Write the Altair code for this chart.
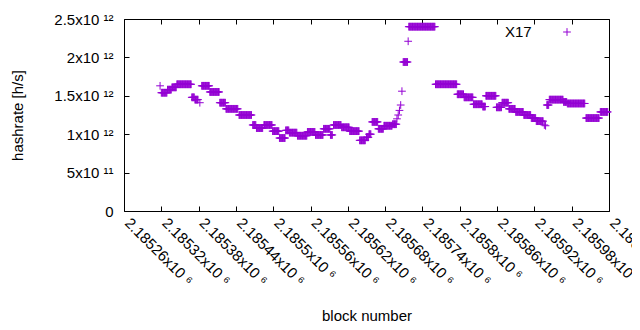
import altair as alt
import pandas as pd

# Plateaus of the per-block hashrate (first block, last block, hashrate in 10^12 h/s)
run_start = [2185318, 2185320, 2185330, 2185337, 2185345, 2185369, 2185374, 2185382,
             2185385, 2185398, 2185414, 2185424, 2185445, 2185467, 2185473, 2185485,
             2185499, 2185510, 2185520, 2185526, 2185539, 2185555, 2185568, 2185581,
             2185592, 2185597, 2185610, 2185623, 2185639, 2185650, 2185654, 2185659,
             2185669, 2185678, 2185692, 2185699, 2185701, 2185703, 2185705, 2185707,
             2185709, 2185717, 2185718, 2185761, 2185796, 2185807, 2185822, 2185837,
             2185842, 2185859, 2185868, 2185879, 2185890, 2185903, 2185915, 2185923,
             2185936, 2185938, 2185940, 2185944, 2185967, 2185973, 2186003, 2186026]
run_end = [2185318, 2185329, 2185336, 2185344, 2185368, 2185373, 2185379, 2185382,
           2185397, 2185413, 2185423, 2185443, 2185465, 2185472, 2185483, 2185498,
           2185509, 2185519, 2185525, 2185538, 2185554, 2185567, 2185580, 2185591,
           2185595, 2185609, 2185622, 2185638, 2185648, 2185653, 2185657, 2185668,
           2185677, 2185691, 2185698, 2185699, 2185701, 2185703, 2185705, 2185707,
           2185716, 2185717, 2185760, 2185795, 2185806, 2185821, 2185836, 2185841,
           2185858, 2185867, 2185878, 2185889, 2185902, 2185914, 2185922, 2185934,
           2185936, 2185938, 2185943, 2185966, 2185972, 2186001, 2186024, 2186038]
run_hashrate_e12 = [1.63, 1.54, 1.58, 1.61, 1.65, 1.48, 1.45, 1.41,
                    1.63, 1.55, 1.41, 1.33, 1.25, 1.12, 1.08, 1.12,
                    1.04, 0.95, 1.05, 1.02, 0.98, 1.03, 0.99, 1.07,
                    0.99, 1.12, 1.09, 1.04, 0.92, 0.96, 1.00, 1.16,
                    1.07, 1.11, 1.13, 1.20, 1.25, 1.31, 1.38, 1.56,
                    1.94, 2.21, 2.40, 1.65, 1.52, 1.48, 1.39, 1.36,
                    1.50, 1.35, 1.41, 1.33, 1.29, 1.25, 1.21, 1.17,
                    1.12, 1.11, 1.38, 1.45, 1.42, 1.40, 1.21, 1.29]

x_ticks = [2185260, 2185320, 2185380, 2185440, 2185500, 2185560, 2185620,
           2185680, 2185740, 2185800, 2185860, 2185920, 2185980, 2186040]
y_ticks = [0, 5e11, 1e12, 1.5e12, 2e12, 2.5e12]
series_name = "X17"

blocks, rates = [], []
for s, e, v in zip(run_start, run_end, run_hashrate_e12):
    for b in range(s, e + 1):
        blocks.append(b)
        rates.append(v * 1e12)
df = pd.DataFrame({"block": blocks, "hashrate": rates, "series": series_name})

CROSS = "M-1,0L1,0M0,-1L0,1"
FONT = "Liberation Sans"
FS = 15

x_scale = alt.Scale(domain=[x_ticks[0], x_ticks[-1]], nice=False, zero=False)
y_scale = alt.Scale(domain=[y_ticks[0], y_ticks[-1]], nice=False, zero=True)

y_label_expr = ("datum.value == 0 ? '0' : (datum.value >= 1e12 ? "
                "(datum.value/1e12) + 'x10 \u00b9\u00b2' : (datum.value/1e11) + 'x10 \u00b9\u00b9')")

base = alt.Chart(df)

pts = base.mark_point(shape=CROSS, filled=False, strokeWidth=1, size=60, opacity=1).encode(
    x=alt.X("block:Q", scale=x_scale,
            axis=alt.Axis(values=x_ticks, labelExpr="(datum.value/1e6) + 'x10 \u2076'",
                          labelAngle=45, labelAlign="left", labelBaseline="middle",
                          labelPadding=9, labelOffset=3, labelOverlap=False, labelFlush=False,
                          labelBound=False, tickSize=5, offset=-5, domain=False, grid=False,
                          title="block number", titleY=109, titleBaseline="middle",
                          titleFontWeight="normal")),
    y=alt.Y("hashrate:Q", scale=y_scale,
            axis=alt.Axis(values=y_ticks, labelExpr=y_label_expr, labelPadding=11,
                          labelOverlap=False, labelFlush=False, labelBound=False,
                          tickSize=5, offset=-5, domain=False, grid=False,
                          title="hashrate [h/s]", titleX=-112, titleY=96,
                          titleBaseline="middle", titleAngle=-90, titleFontWeight="normal")),
    color=alt.Color("series:N", scale=alt.Scale(range=["#9400d3"]),
                    legend=alt.Legend(orient="none", legendX=381, legendY=8, title=series_name,
                                      titleOrient="left", titlePadding=30, titleFontSize=FS,
                                      titleFont=FONT, titleFontWeight="normal", titleColor="black",
                                      titleBaseline="middle", titleAnchor="middle",
                                      labelExpr="''", symbolType=CROSS, symbolSize=60,
                                      symbolStrokeWidth=1, symbolFillColor="transparent",
                                      padding=0)),
)

mirror = base.mark_point(opacity=0).encode(
    x=alt.X("block:Q", scale=x_scale,
            axis=alt.Axis(orient="top", values=x_ticks, labels=False, tickSize=5, offset=-5,
                          domain=False, grid=False, title=None)),
    y=alt.Y("hashrate:Q", scale=y_scale,
            axis=alt.Axis(orient="right", values=y_ticks, labels=False, tickSize=5, offset=-5,
                          domain=False, grid=False, title=None)),
)

chart = alt.layer(pts, mirror).resolve_axis(x="independent", y="independent").properties(
    width=485, height=192,
    autosize=alt.AutoSizeParams(type="none"),
    padding={"left": 116, "top": 11, "right": 23, "bottom": 111},
    background="white",
).configure_view(stroke="black", strokeWidth=1).configure_axis(
    labelFont=FONT, labelFontSize=FS, labelColor="black",
    titleFont=FONT, titleFontSize=FS, titleColor="black",
    tickColor="black", tickWidth=1,
)

chart.save("out.html", embed_options={"renderer": "svg", "actions": False})
